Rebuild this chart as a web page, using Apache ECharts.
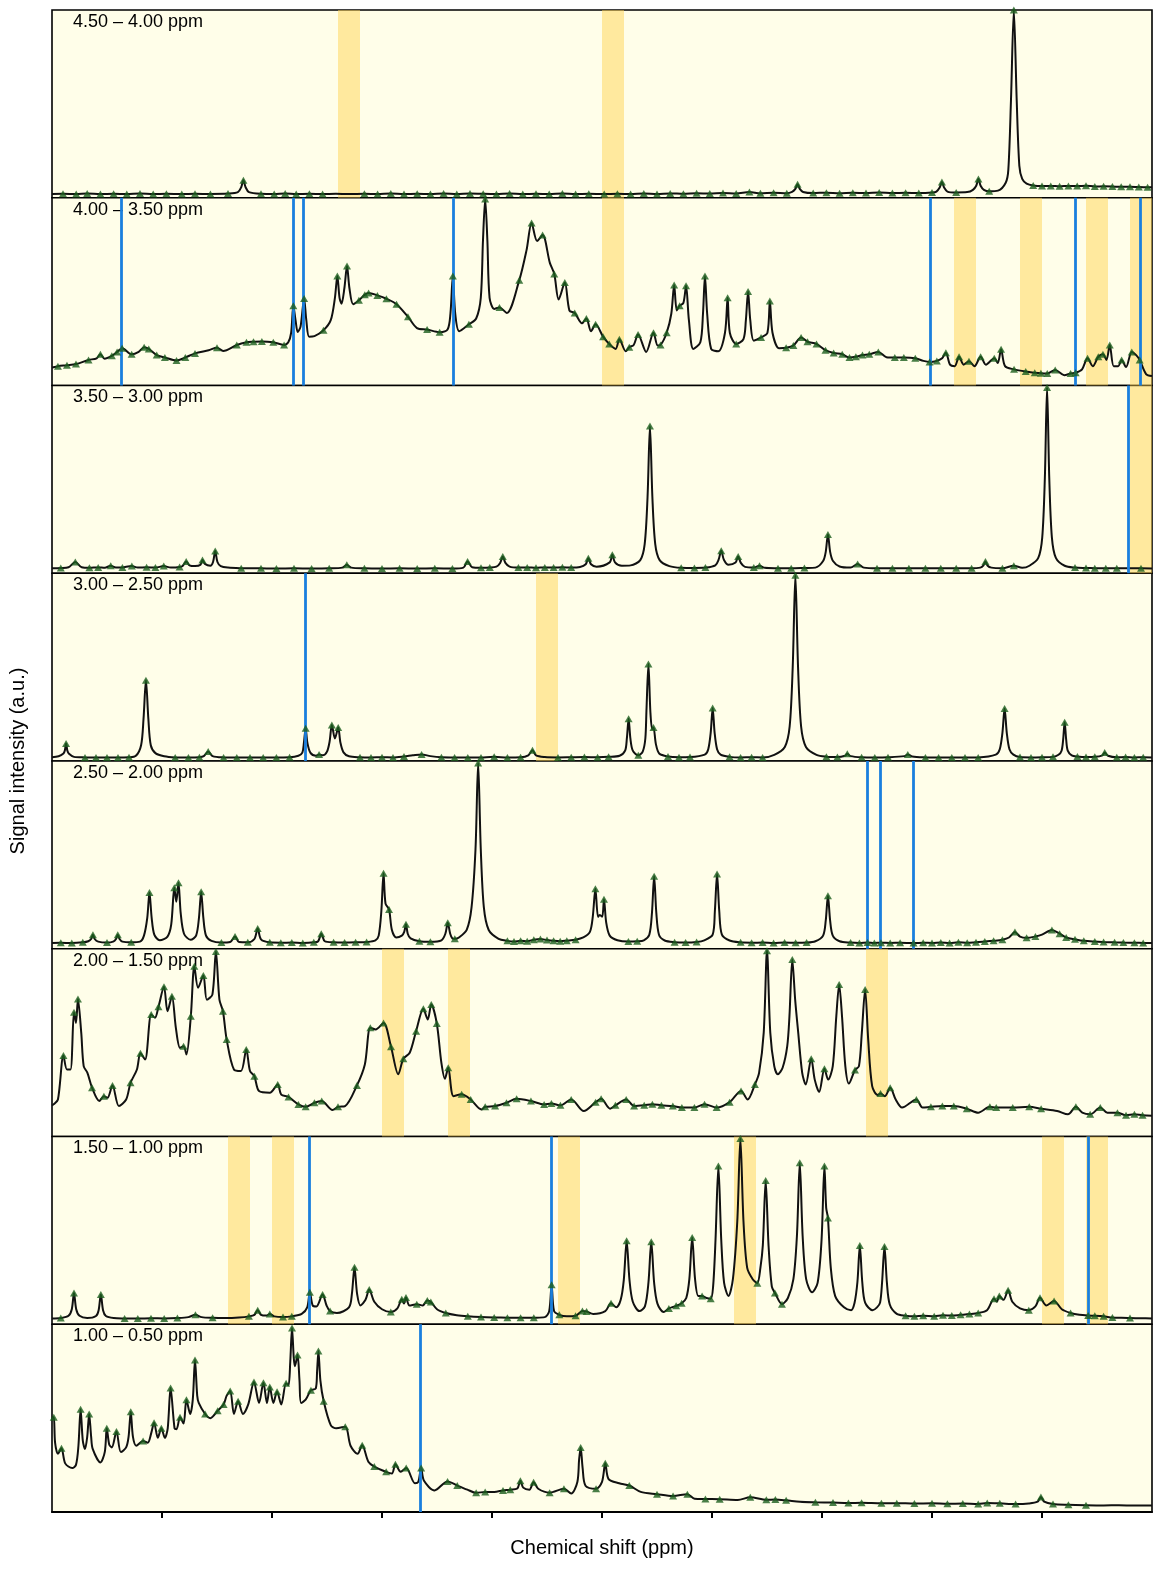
<!DOCTYPE html>
<html>
<head>
<meta charset="utf-8">
<script src="https://cdn.jsdelivr.net/npm/echarts@6/dist/echarts.min.js"></script>
<style>
  html, body { margin: 0; padding: 0; background: #fff; }
  #nmr { width: 1175px; height: 1586px; }
</style>
</head>
<body>
<div id="nmr"></div>
<script>
// upper ppm of each panel (each panel spans 0.5 ppm, drawn high -> low)
var panelHi = [4.5, 4.0, 3.5, 3.0, 2.5, 2.0, 1.5, 1.0];
var panelLabels = ['4.50 \u2013 4.00 ppm', '4.00 \u2013 3.50 ppm', '3.50 \u2013 3.00 ppm', '3.00 \u2013 2.50 ppm',
                   '2.50 \u2013 2.00 ppm', '2.00 \u2013 1.50 ppm', '1.50 \u2013 1.00 ppm', '1.00 \u2013 0.50 ppm'];
// tick marks under the bottom panel (no labels in the original)
var bottomTicks = [0.95, 0.9, 0.85, 0.8, 0.75, 0.7, 0.65, 0.6, 0.55];

// spectrum points: [ppm, intensity, picked-peak flag]
var spec1 = [[4.500,2.0],[4.495,2.1,1],[4.489,2.0,1],[4.484,2.2,1],[4.478,2.0,1],[4.472,2.1,1],[4.466,2.0,1],[4.460,2.2,1],[4.454,2.0,1],[4.448,2.1,1],[4.441,2.0,1],[4.435,2.1,1],[4.428,2.0,1],[4.420,2.2,1],
[4.4155,3.0],[4.414,5.6],[4.4130,9.3,1],[4.412,5.6],[4.4105,3.0],
[4.405,2.1,1],[4.399,2.0,1],[4.394,2.2,1],[4.389,2.0,1],[4.383,2.1,1],[4.377,2.0,1],[4.371,2.1],[4.365,2.0],[4.358,2.1,1],[4.352,2.0,1],[4.346,2.2,1],[4.340,2.0,1],[4.334,2.1,1],[4.328,2.0,1],[4.322,2.2,1],[4.316,2.0,1],[4.310,2.3,1],[4.304,2.1,1],[4.298,2.0,1],[4.292,2.2,1],[4.286,2.0,1],[4.280,2.1,1],[4.274,2.0,1],[4.268,2.2,1],[4.262,2.0,1],[4.256,2.1,1],[4.249,2.0,1],[4.243,2.1,1],[4.237,2.0,1],[4.231,2.2,1],[4.225,2.0,1],[4.219,2.3,1],[4.213,2.1,1],[4.207,2.4,1],[4.201,2.2,1],[4.195,2.5,1],[4.189,2.3,1],[4.183,3.0,1],[4.178,2.4,1],[4.172,2.6,1],[4.166,2.4,1],
[4.1636,3.1],[4.1621,4.7],[4.1611,7.2,1],[4.1601,4.7],[4.1586,3.1],
[4.154,2.5,1],[4.148,2.7,1],[4.142,2.4,1],[4.136,2.6,1],[4.130,2.5,1],[4.124,2.8,1],[4.118,2.5,1],[4.112,2.6,1],[4.106,2.5,1],[4.100,2.8,1],
[4.098,3.3],[4.0965,5.4],[4.0955,8.4,1],[4.0945,5.4],[4.093,3.3],
[4.089,2.8,1],[4.084,3.0],[4.0814,4.2],[4.0799,6.4],[4.0789,10.0,1],[4.0779,6.4],[4.0764,4.2],[4.074,3.4,1],[4.070,3.8],
[4.0665,8],[4.0653,15],[4.0641,52],[4.0628,100,1],[4.0615,52],[4.0603,17],[4.059,10],[4.057,7.5],[4.054,6.5,1],[4.050,6.2,1],[4.046,6.3,1],[4.042,6.1,1],[4.038,6.3,1],[4.034,6.2,1],[4.030,6.4,1],[4.026,6.0,1],[4.022,6.1,1],[4.018,6.0,1],[4.014,5.8,1],[4.010,5.9,1],[4.006,5.7,1],[4.002,5.6,1],[4.000,5.6]];

var spec2 = [[4.000,9.6],[3.9989,9.8],[3.9973,10.3,1],[3.9932,10.8,1],[3.9891,11.4,1],[3.9834,13.6,1],[3.9797,14.5],[3.9780,16.7,1],[3.9761,14.2],[3.9728,15.8,1],[3.9704,17.9,1],[3.9681,19.9,1],[3.9638,16.6,1],[3.9606,17.9],[3.9581,20.4,1],[3.9560,19.5,1],[3.9524,16.2,1],[3.9487,14.9,1],[3.9434,13.3,1],[3.9394,14.9,1],[3.9350,17.1,1],[3.9288,18.8],[3.9250,20.1,1],[3.9222,18.4],[3.9160,21.6,1],[3.9116,23.0,1],[3.9084,23.3,1],[3.9046,23.5,1],[3.8994,23.0,1],[3.8945,21.6,1],[3.8926,23.0],[3.8913,28.1],[3.8903,42.5,1],[3.8893,34.8],[3.8883,28.5],[3.8870,31.5],[3.8854,46.4,1],[3.8844,34.8],[3.8831,26.0],[3.8807,26.3],[3.8766,29.4,1],[3.8733,34.8],[3.8714,46.7],[3.8703,58.3,1],[3.8693,46.7],[3.8684,43.6],[3.8671,51.8],[3.8659,63.6,1],[3.8648,51.8],[3.8631,43.3],[3.8605,45.4,1],[3.8578,48.4,1],[3.8561,49.3,1],[3.8521,48.0,1],[3.8480,46.2,1],[3.8434,43.3,1],[3.8382,36.6,1],[3.8341,30.6],[3.8295,29.8,1],[3.8238,28.4,1],[3.8202,29.8],[3.8189,38.2],[3.8178,58.3,1],[3.8167,38.2],[3.8149,28.9],[3.8105,32.6,1],[3.8072,35.7],[3.8051,46.7],[3.8041,77.2],[3.8031,99.3,1],[3.8021,77.2],[3.8011,46.7],[3.7990,40.8],[3.7966,41.6,1],[3.7933,38.6],[3.7876,56.1,1],[3.7843,72.1],[3.7820,86.6,1],[3.7795,76.9],[3.7770,80.1,1],[3.7737,65.3],[3.7717,59.4,1],[3.7697,45.8],[3.7669,54.8,1],[3.7648,39.9],[3.7624,38.6,1],[3.7591,33.1],[3.7571,35.7,1],[3.7550,28.9],[3.7529,32.6,1],[3.7495,26.0,1],[3.7467,22.1,1],[3.7438,19.5],[3.7421,24.7,1],[3.7392,18.2],[3.7376,20.4,1],[3.7356,21.6],[3.7336,27.2,1],[3.7299,17.9],[3.7266,28.1,1],[3.7247,21.3],[3.7234,21.6,1],[3.7206,28.1,1],[3.7185,38.2],[3.7172,53.5,1],[3.7160,40.0],[3.7147,42.5,1],[3.7130,44.0],[3.7118,53.1,1],[3.7105,34.8],[3.7085,19.5],[3.7053,23.0],[3.7041,38.2],[3.7032,58.3,1],[3.7022,38.2],[3.7004,19.5],[3.6972,18.2],[3.6941,28.1],[3.6929,46.7,1],[3.6919,28.1],[3.6890,22.1,1],[3.6857,24.7],[3.6846,34.8],[3.6836,50.1,1],[3.6826,34.8],[3.6810,23.9],[3.6777,25.6,1],[3.6748,28.1],[3.6737,45.0,1],[3.6725,28.1],[3.6695,19.9],[3.6663,20.1,1],[3.6630,21.3,1],[3.6595,25.6,1],[3.6566,23.3,1],[3.6525,22.1,1],[3.6484,18.8,1],[3.6447,17.3,1],[3.6408,16.6,1],[3.6375,14.9,1],[3.6346,15.3,1],[3.6316,16.2,1],[3.6285,16.6,1],[3.6244,17.9,1],[3.6207,15.1],[3.6169,14.9,1],[3.6128,14.9,1],[3.6076,14.5,1],[3.6039,13.1],[3.6011,12.5,1],[3.5978,13.1,1],[3.5954,14.5],[3.5937,17.5,1],[3.5918,11.1],[3.5897,10.3],[3.5877,15.3,1],[3.5856,11.1],[3.5832,12.9,1],[3.5807,10.3],[3.5779,15.3,1],[3.5755,11.1],[3.5717,14.5,1],[3.5701,12.0],[3.5686,19.3,1],[3.5668,10.3],[3.5627,8.6,1],[3.5574,7.4,1],[3.5533,6.8,1],[3.5505,6.5,1],[3.5476,6.4,1],[3.5440,8.3,1],[3.5399,5.5],[3.5370,6.4,1],[3.5347,6.8,1],[3.5318,8.6],[3.5293,14.5,1],[3.5269,10.3],[3.5244,15.3,1],[3.5223,16.6,1],[3.5207,13.6],[3.5192,21.6,1],[3.5174,10.3],[3.5154,10.3],[3.5138,13.6,1],[3.5118,9.8],[3.5092,17.9,1],[3.5072,16.2],[3.5056,13.6,1],[3.5027,6.1],[3.5000,5.0]];

var spec3 = [[3.500,2.6],[3.496,2.8,1],[3.4925,3.2],[3.4894,6.0,1],[3.4865,3.2],[3.483,2.9,1],[3.479,3.1,1],[3.476,2.9],[3.4733,4.0,1],[3.471,3.0],[3.468,3.1,1],[3.4637,3.8,1],[3.461,3.0],[3.457,3.2,1],[3.453,3.0,1],[3.4492,3.8,1],[3.446,3.0],[3.442,3.3,1],[3.4405,4.0],[3.4390,6.3,1],[3.4375,4.2],[3.435,3.8],[3.4325,4.5],[3.4316,7.1,1],[3.4305,5.0],[3.428,4.0],[3.4268,6.0],[3.4258,11.8,1],[3.4248,6.0],[3.4233,3.8],[3.420,3.0],[3.414,2.7,1],[3.405,2.6,1],[3.398,2.5,1],[3.390,2.6,1],[3.382,2.5,1],[3.374,2.6,1],[3.368,3.0],[3.3660,4.5,1],[3.364,3.0],[3.358,2.6,1],[3.350,2.5,1],[3.342,2.6,1],[3.334,2.5,1],[3.326,2.6,1],[3.318,2.5,1],[3.313,3.0],[3.3111,6.3,1],[3.309,3.2],[3.305,2.9,1],[3.301,3.0,1],[3.298,3.5],[3.2963,5.5],[3.2951,8.9,1],[3.2939,5.5],[3.292,3.5],[3.288,3.0,1],[3.284,3.1,1],[3.280,2.9,1],[3.276,3.1,1],[3.272,3.0,1],[3.268,3.2,1],[3.264,3.0,1],[3.260,3.3],[3.2574,4.8],[3.2562,8.0,1],[3.255,4.8],[3.2525,3.5],[3.2465,5.8],[3.2453,9.8,1],[3.2441,5.8],[3.241,4.0],[3.237,4.2],[3.2326,7.0],[3.2306,15.5],[3.2293,40.5],[3.2282,78.4,1],[3.2271,40.5],[3.2258,15.5],[3.2238,7.0],[3.2194,3.8],[3.214,2.9,1],[3.208,2.8,1],[3.203,3.0,1],[3.1985,4.2],[3.1970,7.2],[3.1958,12.0,1],[3.1946,7.2],[3.1925,4.5],[3.1893,5.7],[3.1881,8.9,1],[3.1869,5.5],[3.185,3.4],[3.181,3.0,1],[3.1784,4.0,1],[3.176,2.9],[3.170,2.7,1],[3.164,2.6,1],[3.158,2.8,1],[3.153,3.0],[3.1495,6.5],[3.1483,11.4],[3.1473,20.7,1],[3.1463,11.4],[3.1450,6.5],[3.142,3.6],[3.137,3.0],[3.1338,4.9,1],[3.131,3.0],[3.125,2.6,1],[3.118,2.7,1],[3.1105,2.6,1],[3.103,2.7,1],[3.096,2.6,1],[3.089,2.7,1],[3.082,2.6,1],[3.078,3.0],[3.0767,4.0],[3.0757,6.3,1],[3.0747,4.0],[3.073,3.0],[3.068,2.7,1],[3.0628,4.0,1],[3.059,2.9],[3.0557,4.0],[3.0517,8.2],[3.0499,19.0],[3.0487,50.8],[3.0477,99,1],[3.0467,50.8],[3.0455,19.0],[3.0437,8.2],[3.0397,4.0],[3.035,3.0,1],[3.030,2.8,1],[3.026,2.7,1],[3.021,2.6,1],[3.016,2.7,1],[3.010,2.6],[3.005,2.6,1],[3.000,2.5]];

var spec4 = [[3.000,2.0],[2.997,2.5],[2.9948,4.0],[2.9942,5.4],[2.9936,9.3,1],[2.993,5.4],[2.9924,4.0],[2.990,2.2],[2.985,1.9,1],[2.980,1.8,1],[2.975,1.9,1],[2.970,1.8,1],[2.965,2.0,1],[2.962,2.6],[2.9595,8.4],[2.9584,22.4],[2.9573,43.0,1],[2.9562,22.4],[2.9551,8.4],[2.953,4.2],[2.949,2.5],[2.944,1.9,1],[2.938,1.8,1],[2.933,2.0,1],[2.931,2.6],[2.9290,5.0,1],[2.927,2.6],[2.922,1.9,1],[2.916,1.8,1],[2.910,1.9,1],[2.904,1.8,1],[2.898,1.9,1],[2.892,2.0,1],[2.888,2.8],[2.8862,4.5],[2.8855,9.6],[2.8847,17.4,1],[2.8839,9.6],[2.8825,4.3],[2.880,2.8],[2.8786,3.4,1],[2.877,3.0],[2.875,5.0],[2.8738,10.5],[2.8728,19.2,1],[2.8714,12.0],[2.8699,17.8,1],[2.8689,9.8],[2.8675,4.6],[2.865,2.5],[2.860,2.0,1],[2.855,1.9,1],[2.850,2.0,1],[2.845,1.9,1],[2.840,2.4,1],[2.836,3.0],[2.832,3.5,1],[2.828,2.6],[2.823,2.0,1],[2.817,1.9,1],[2.811,1.8,1],[2.805,1.9,1],[2.799,2.2,1],[2.793,1.9,1],[2.787,2.0,1],[2.7835,3.0],[2.7816,5.7,1],[2.780,3.0],[2.776,2.1],[2.770,1.9,1],[2.764,2.0,1],[2.758,2.1,1],[2.752,2.0,1],[2.747,2.2,1],[2.742,2.8],[2.7395,5.5],[2.7387,12.0],[2.7379,22.5,1],[2.7371,12.0],[2.736,5.5],[2.7335,3.0,1],[2.7315,5.0],[2.7303,12.0],[2.7298,26.7],[2.7289,51.6,1],[2.7280,26.0],[2.7272,17.0],[2.7266,17.8,1],[2.7255,9.0],[2.724,4.0],[2.720,2.4,1],[2.715,2.0,1],[2.710,2.1,1],[2.7033,3.4],[2.7017,6.3],[2.7006,15.0],[2.6997,28.2,1],[2.6988,15.0],[2.6977,6.3],[2.6961,3.4],[2.692,2.2,1],[2.687,1.9,1],[2.682,2.0,1],[2.677,1.9,1],[2.6717,3.3],[2.6669,7.5],[2.6647,18.4],[2.6633,50.4],[2.6621,99,1],[2.6609,50.4],[2.6595,18.4],[2.6573,7.5],[2.6525,3.3],[2.648,2.3,1],[2.643,2.1,1],[2.6395,2.8],[2.6385,3.8,1],[2.637,2.6],[2.632,2.0,1],[2.626,1.9,1],[2.620,2.0,1],[2.6125,2.6],[2.6110,3.5,1],[2.609,2.4],[2.603,1.9,1],[2.597,1.8,1],[2.591,1.9,1],[2.585,1.8,1],[2.579,1.9,1],[2.5710,3.4],[2.5692,6.3],[2.5680,14.9],[2.5670,27.9,1],[2.5660,14.9],[2.5648,6.3],[2.5630,3.4],[2.560,2.1,1],[2.555,1.9,1],[2.550,2.0,1],[2.545,2.2,1],[2.5425,3.3],[2.5411,5.5],[2.5404,11.2],[2.5397,20.6,1],[2.5390,11.2],[2.5383,5.5],[2.5365,3.0],[2.5339,2.4,1],[2.530,2.1,1],[2.526,2.2,1],[2.5225,3.0],[2.5215,4.5,1],[2.520,2.8],[2.516,2.0,1],[2.512,2.1,1],[2.508,1.9,1],[2.504,2.0,1],[2.500,1.9]];

var spec5 = [[2.500,3.0],[2.496,3.2,1],[2.491,3.0,1],[2.486,3.4,1],[2.4835,4.0],[2.4822,5.2],[2.4814,7.5,1],[2.4806,5.2],[2.479,3.8],[2.475,3.3,1],[2.4722,3.8],[2.4709,5.2],[2.4701,7.5,1],[2.4693,5.2],[2.468,3.8],[2.464,3.4,1],[2.460,3.8],[2.4582,7.0],[2.4567,16.5],[2.4557,29.9,1],[2.4547,16.5],[2.4535,7.5],[2.451,4.5],[2.4475,6.5],[2.4458,13.0],[2.4444,32.5,1],[2.4435,25.0],[2.4425,35.1,1],[2.4415,19.0],[2.4400,8.0],[2.437,4.8],[2.4345,7.0],[2.4332,16.5],[2.4322,30.4,1],[2.4312,16.5],[2.430,7.0],[2.4275,4.2],[2.423,3.3,1],[2.419,3.6],[2.4168,6.5,1],[2.415,3.6],[2.411,3.5,1],[2.408,5.2],[2.4065,10.8,1],[2.405,5.0],[2.401,3.4,1],[2.396,3.2,1],[2.391,3.3,1],[2.386,3.1,1],[2.381,3.4,1],[2.379,4.0],[2.3776,8.0,1],[2.376,4.0],[2.372,3.4,1],[2.367,3.3,1],[2.362,3.4,1],[2.357,3.6,1],[2.353,4.5],[2.3515,7.0],[2.3503,20.0],[2.3493,40.2,1],[2.3484,24.0],[2.3468,20.9,1],[2.3455,10.0],[2.3435,6.0],[2.341,7.0],[2.3399,9.0],[2.3391,13.0,1],[2.3383,8.0],[2.337,5.5],[2.333,4.0,1],[2.328,3.7,1],[2.323,4.5],[2.3212,8.0],[2.3201,13.8,1],[2.3190,8.0],[2.318,5.5],[2.3169,5.3,1],[2.315,6.0],[2.3115,10],[2.3093,22],[2.3075,53],[2.3063,99,1],[2.3051,53],[2.3037,22],[2.3015,10],[2.297,5.3],[2.293,4.2,1],[2.290,3.8,1],[2.287,4.3,1],[2.284,4.0,1],[2.281,4.8,1],[2.278,5.2,1],[2.275,4.6,1],[2.272,4.2,1],[2.269,4.0,1],[2.266,4.3,1],[2.262,4.8,1],[2.2585,6.0],[2.2555,9.0],[2.2542,17.0],[2.2530,31.9,1],[2.2518,17.0],[2.2510,18.0],[2.2499,17.0],[2.2491,26.4,1],[2.2481,14.0],[2.2465,7.0],[2.243,4.5],[2.238,3.8,1],[2.234,4.0,1],[2.231,4.5],[2.2285,7.5],[2.2273,19.0],[2.2263,38.6,1],[2.2253,19.0],[2.2241,7.5],[2.2215,4.4],[2.217,3.5,1],[2.212,3.3,1],[2.207,3.6,1],[2.2035,4.5],[2.1997,7.5],[2.1987,20.0],[2.1977,39.8,1],[2.1967,20.0],[2.1955,7.5],[2.192,4.4],[2.187,3.4,1],[2.182,3.2,1],[2.177,3.3,1],[2.172,3.1,1],[2.167,3.3,1],[2.162,3.2,1],[2.157,3.3,1],[2.153,4.0],[2.1495,7.0],[2.1483,15.0],[2.1473,28.2,1],[2.1463,15.0],[2.1451,7.0],[2.142,4.0],[2.137,3.3,1],[2.133,3.1,1],[2.1293,3.3,1],[2.1262,3.1,1],[2.1232,3.2,1],[2.119,3.1,1],[2.1145,3.2,1],[2.1084,3.0,1],[2.104,3.2,1],[2.100,3.1,1],[2.096,3.3,1],[2.092,3.1,1],[2.088,3.4,1],[2.084,3.2,1],[2.080,3.5,1],[2.076,3.8,1],[2.072,4.2,1],[2.068,4.8,1],[2.065,6.0],[2.0623,8.9,1],[2.060,6.5],[2.057,5.8,1],[2.053,6.5,1],[2.050,7.5],[2.0455,10.0,1],[2.042,8.0,1],[2.039,6.0,1],[2.035,5.0,1],[2.031,4.2,1],[2.026,3.8,1],[2.022,3.6,1],[2.017,3.4,1],[2.013,3.3,1],[2.008,3.2,1],[2.004,3.1,1],[2.000,3.0]];

var spec6 = [[2.000,16.5],[1.9993,17.1],[1.9973,19.7],[1.9948,43.1,1],[1.9932,35.7],[1.9916,35.7],[1.9900,66.2,1],[1.9891,60.5],[1.9882,73.3,1],[1.9867,55.2],[1.9856,37.5],[1.9839,33.9],[1.9818,26.0,1],[1.9785,18.9],[1.9764,21.5,1],[1.9748,20.6],[1.9725,27.2,1],[1.9696,16.2],[1.9663,19.7],[1.9643,28.6,1],[1.9614,35.7],[1.9598,44.3,1],[1.9577,41.0],[1.9549,65.0,1],[1.9532,63.2],[1.9516,69.1,1],[1.9491,79.7,1],[1.9475,66.7],[1.9455,74.7,1],[1.9437,57.9],[1.9418,47.2],[1.9402,48.1,1],[1.9389,43.7],[1.9369,64.0,1],[1.9353,90.7,1],[1.9336,79.2],[1.9312,85.7,1],[1.9296,72.9],[1.9271,75.6],[1.9255,98.6,1],[1.9239,72.9],[1.9223,66.7,1],[1.9206,51.6,1],[1.9173,35.7],[1.9141,34.9],[1.9117,46.3,1],[1.9100,34.9],[1.9080,32.1,1],[1.9059,24.2],[1.9010,23.3],[1.8974,27.7,1],[1.8958,22.3],[1.8925,21.1,1],[1.8880,17.1,1],[1.8847,15.8,1],[1.8807,18.0,1],[1.8774,18.9,1],[1.8725,14.1],[1.8700,15.8,1],[1.8668,16.2],[1.8614,27.2,1],[1.8578,38.4],[1.8553,57.9,1],[1.8529,57.0],[1.8493,60.5,1],[1.8459,47.8,1],[1.8426,33.1],[1.8403,41.4,1],[1.8374,44.6],[1.8345,56.1,1],[1.8312,68.0,1],[1.8292,62.3],[1.8276,70.3,1],[1.8251,60.2,1],[1.8230,39.2],[1.8214,30.7],[1.8199,36.6,1],[1.8175,21.5],[1.8138,22.5,1],[1.8097,19.7,1],[1.8048,14.4],[1.8031,15.8,1],[1.7986,16.2,1],[1.7934,18.0,1],[1.7888,20.1,1],[1.7823,18.9,1],[1.7763,17.1,1],[1.7730,17.6,1],[1.7689,16.6,1],[1.7640,19.7,1],[1.7583,13.6],[1.7529,18.3,1],[1.7504,20.1,1],[1.7463,14.8],[1.7439,16.6,1],[1.7390,19.7,1],[1.7354,16.2,1],[1.7308,16.6,1],[1.7271,17.2,1],[1.7230,16.6,1],[1.7178,16.2,1],[1.7137,15.4,1],[1.7080,15.4,1],[1.7034,17.2,1],[1.6979,15.4,1],[1.6920,18.3,1],[1.6868,24.2,1],[1.6838,19.7],[1.6805,27.7,1],[1.6786,33.9],[1.6765,55.2],[1.6750,99.0,1],[1.6735,55.2],[1.6717,37.5],[1.6701,33.1],[1.6679,36.6],[1.6658,48.1],[1.6648,64.0],[1.6635,94.3,1],[1.6622,72.9],[1.6608,55.2],[1.6590,33.9],[1.6574,27.7],[1.6549,41.4,1],[1.6533,30.3],[1.6513,23.7],[1.6489,36.1,1],[1.6472,30.3],[1.6451,37.5],[1.6435,64.0],[1.6422,80.9,1],[1.6409,64.0],[1.6394,37.5],[1.6378,28.2],[1.6350,35.4,1],[1.6332,37.5],[1.6319,55.2],[1.6304,78.3,1],[1.6290,51.6],[1.6272,26.8],[1.6247,22.1],[1.6234,22.9,1],[1.6214,21.5],[1.6190,26.0,1],[1.6165,19.7],[1.6136,15.4],[1.6071,19.7,1],[1.6043,15.4],[1.6005,15.8,1],[1.5953,16.2,1],[1.5901,16.2,1],[1.5842,14.8,1],[1.5790,12.7],[1.5737,15.8,1],[1.5708,15.4,1],[1.5633,15.4,1],[1.5558,15.8,1],[1.5504,14.8,1],[1.5431,13.6],[1.5382,11.8],[1.5346,15.8,1],[1.5317,12.7],[1.5281,11.8,1],[1.5235,15.4,1],[1.5203,12.7],[1.5157,12.7,1],[1.5118,11.3,1],[1.5080,11.8,1],[1.5043,11.3,1],[1.5000,11.1]];

var spec7 = [[1.500,3.0],[1.4960,3.3,1],[1.4925,4.5],[1.4910,8.0],[1.4900,16.7,1],[1.4890,8.0],[1.4875,4.5],[1.484,3.3],[1.4800,4.4],[1.4788,7.5],[1.4778,15.9,1],[1.4768,7.5],[1.4755,4.4],[1.472,3.3],[1.467,3.1,1],[1.461,3.0,1],[1.455,3.2,1],[1.449,3.1,1],[1.443,3.3,1],[1.438,3.8],[1.4348,5.0,1],[1.432,3.8],[1.427,3.4,1],[1.421,3.3],[1.415,3.6],[1.4105,4.2,1],[1.408,5.0],[1.4065,7.5,1],[1.405,5.0],[1.4025,4.6],[1.4010,5.5,1],[1.399,4.2],[1.395,3.8,1],[1.391,4.2,1],[1.3865,5.5],[1.3840,9.0],[1.3828,17.1,1],[1.3815,10.0],[1.3798,9.5],[1.3770,15.9,1],[1.3752,10.0],[1.3736,7.0,1],[1.3705,6.0],[1.3650,9.0],[1.3637,16.0],[1.3625,30.3,1],[1.3613,16.0],[1.3598,10.0],[1.3575,13.0],[1.3558,18.5,1],[1.3535,12.0],[1.350,8.0],[1.346,6.5,1],[1.343,8.5],[1.3410,13.3,1],[1.3400,11.0],[1.3391,14.2,1],[1.3375,10.0],[1.3342,10.7,1],[1.3315,10.0],[1.3294,12.7,1],[1.3278,11.9,1],[1.325,8.0],[1.321,6.0,1],[1.316,4.8],[1.311,4.2,1],[1.305,3.8,1],[1.299,3.6,1],[1.293,3.5,1],[1.287,3.4,1],[1.281,3.5,1],[1.276,3.8],[1.2740,7.0],[1.2729,21.0,1],[1.2718,7.0],[1.2694,5.0,1],[1.266,4.2],[1.262,4.5,1],[1.2589,7.0,1],[1.2570,6.8,1],[1.254,5.5],[1.2485,7.0],[1.2459,11.2,1],[1.2435,9.0],[1.2415,13.0],[1.2401,23.5],[1.2388,44.5,1],[1.2375,23.5],[1.2360,12.0],[1.233,7.0],[1.2305,9.5],[1.2289,22.0],[1.2276,43.9,1],[1.2263,22.0],[1.2248,11.0],[1.2220,6.5],[1.2196,8.4,1],[1.2163,9.8,1],[1.2138,11.2,1],[1.2117,14.0],[1.2103,24.0],[1.2090,46.2,1],[1.2077,24.0],[1.2062,15.0],[1.2045,15.0,1],[1.2025,14.0],[1.2006,13.6,1],[1.1995,20],[1.1984,45],[1.1971,84.3,1],[1.1958,45],[1.1945,22],[1.1925,15.0],[1.1905,24],[1.1885,55],[1.1871,99,1],[1.1857,55],[1.1840,30],[1.1815,24],[1.1794,21.9,1],[1.1780,30],[1.1769,42],[1.1756,76.5,1],[1.1743,42],[1.1728,20],[1.1714,16.7,1],[1.1682,10.7,1],[1.1655,14],[1.1630,24],[1.1614,47],[1.1601,86.0,1],[1.1588,47],[1.1572,24],[1.1545,17],[1.1520,22],[1.1502,45],[1.1489,84.3,1],[1.1481,62],[1.1473,56.6,1],[1.1460,30],[1.1440,15],[1.1400,9],[1.1368,7.5],[1.1352,11.5],[1.1339,22.5],[1.1328,41.9,1],[1.1317,22.5],[1.1304,11.5],[1.127,7.5],[1.1250,9.0],[1.1236,11.5],[1.1227,22.2],[1.1216,41.4,1],[1.1205,22.2],[1.1192,10.5],[1.116,5.5],[1.112,4.5,1],[1.108,4.2,1],[1.104,4.5,1],[1.099,4.3,1],[1.095,4.8,1],[1.091,4.6,1],[1.087,5.0,1],[1.083,5.4,1],[1.079,6.0,1],[1.075,7.5],[1.0718,13.6,1],[1.0705,12.0],[1.0694,15.0,1],[1.0675,13.0],[1.0654,18.1,1],[1.0635,12.0],[1.060,8.5],[1.056,7.5,1],[1.053,9.5],[1.0509,14.1,1],[1.048,10.0],[1.0445,12.4,1],[1.041,8.0],[1.037,6.0,1],[1.033,5.0],[1.0290,4.6,1],[1.026,4.5,1],[1.022,4.2,1],[1.018,3.6,1],[1.014,3.4],[1.010,3.3,1],[1.005,3.2],[1.000,3.1]];

var spec8 = [[1.000,50.5],[0.9992,50.5,1],[0.9986,36.9],[0.9973,31.0],[0.9957,33.9,1],[0.9940,25.9],[0.9908,23.4],[0.9891,25.1],[0.9880,35.0],[0.9870,54.7,1],[0.9860,38.0],[0.9850,33.6],[0.9840,40.0],[0.9831,52.2,1],[0.9822,40.0],[0.9815,33.6],[0.9780,26.4],[0.9760,32.0],[0.9751,44.6,1],[0.9740,36.0],[0.9728,34.4],[0.9707,42.9,1],[0.9687,31.9],[0.9663,34.4],[0.9652,40.0],[0.9642,53.4,1],[0.9632,40.0],[0.9617,35.3],[0.9586,37.8,1],[0.9565,36.9],[0.9549,42.0],[0.9536,47.6,1],[0.9519,39.5],[0.9503,44.6,1],[0.9487,39.5],[0.9474,44.6],[0.9461,66.1,1],[0.9443,44.6],[0.9434,44.1],[0.9418,50.5,1],[0.9402,47.1],[0.9389,59.8,1],[0.9372,52.2],[0.9360,60.0],[0.9350,81.0,1],[0.9340,62.0],[0.9333,58.1],[0.9304,52.2,1],[0.9280,50.0],[0.9247,53.9,1],[0.9220,57.3,1],[0.9206,62.0],[0.9190,64.4,1],[0.9173,52.2],[0.9154,59.0,1],[0.9132,52.2],[0.9108,57.3],[0.9082,69.2,1],[0.9059,58.1],[0.9039,68.8,1],[0.9023,58.1],[0.9010,66.6,1],[0.8994,58.1],[0.8977,64.1,1],[0.8958,57.3],[0.8936,68.6,1],[0.8925,67.5],[0.8917,80.0],[0.8909,98.0,1],[0.8901,82.0],[0.8896,77.6],[0.8884,83.6,1],[0.8875,70.0],[0.8868,58.1],[0.8847,59.8],[0.8823,64.9,1],[0.8801,65.8],[0.8795,75.0],[0.8789,85.8,1],[0.8780,70.0],[0.8765,59.0,1],[0.8733,46.3],[0.8708,44.6],[0.8667,45.4,1],[0.8643,35.3],[0.8611,31.0],[0.8590,35.6,1],[0.8562,26.8],[0.8535,24.2,1],[0.8481,21.4,1],[0.8455,20.5],[0.8439,25.4,1],[0.8415,21.4],[0.8390,23.4,1],[0.8350,15.3],[0.8335,16.0],[0.8322,23.4,1],[0.8309,16.6],[0.8261,11.5],[0.8202,16.3,1],[0.8158,14.1,1],[0.8112,11.9],[0.8072,10.2,1],[0.8031,10.7,1],[0.7990,10.7],[0.7950,11.5,1],[0.7917,11.9,1],[0.7885,12.5],[0.7871,16.6,1],[0.7858,13.0],[0.7830,11.9],[0.7811,15.8,1],[0.7790,12.4],[0.7738,10.3,1],[0.7673,12.4,1],[0.7640,9.8],[0.7612,16.0],[0.7604,28.0],[0.7597,34.4,1],[0.7588,23.4],[0.7575,14.0],[0.7527,12.4,1],[0.7500,16.0],[0.7485,25.9,1],[0.7470,17.5],[0.7422,15.3],[0.7376,14.1,1],[0.7324,10.7],[0.7250,9.5,1],[0.7177,8.5,1],[0.7112,9.5,1],[0.7079,7.1],[0.7030,6.9,1],[0.6965,6.8,1],[0.6883,6.4],[0.6826,7.8,1],[0.6753,6.5,1],[0.6712,6.6,1],[0.6663,6.2,1],[0.6600,5.5],[0.6530,5.2,1],[0.6450,5.0,1],[0.6380,4.8,1],[0.6320,4.9,1],[0.6230,4.6,1],[0.6160,4.7,1],[0.6080,4.5,1],[0.6000,4.6,1],[0.5930,4.4,1],[0.5860,4.5,1],[0.5790,4.3,1],[0.5749,4.8,1],[0.5692,4.6,1],[0.5620,4.2,1],[0.5560,4.5],[0.5520,5.5],[0.5505,8.0,1],[0.5490,5.5],[0.5450,4.2,1],[0.5380,3.8,1],[0.5300,3.6,1],[0.5220,3.5],[0.5150,3.6],[0.5080,3.4],[0.5000,3.5]];

// shaded (excluded) regions per panel [from, to] ppm
var bands1 = [[4.37,4.36],[4.25,4.24]];
var bands2 = [[3.75,3.74],[3.59,3.58],[3.56,3.55],[3.53,3.52],[3.51,3.50]];
var bands3 = [[3.01,3.00]];
var bands4 = [[2.78,2.77]];
var bands5 = [];
var bands6 = [[1.85,1.84],[1.82,1.81],[1.63,1.62]];
var bands7 = [[1.42,1.41],[1.40,1.39],[1.27,1.26],[1.19,1.18],[1.05,1.04],[1.03,1.02]];
var bands8 = [];

// blue reference lines per panel (ppm)
var lines1 = [];
var lines2 = [3.9683, 3.8905, 3.8857, 3.8177, 3.6010, 3.5351, 3.5055];
var lines3 = [3.0108];
var lines4 = [2.8848];
var lines5 = [2.1295, 2.1234, 2.1086];
var lines6 = [];
var lines7 = [1.3832, 1.2730, 1.0290];
var lines8 = [0.8325];

var spectra = [spec1, spec2, spec3, spec4, spec5, spec6, spec7, spec8];
var bands = [bands1, bands2, bands3, bands4, bands5, bands6, bands7, bands8];
var blueLines = [lines1, lines2, lines3, lines4, lines5, lines6, lines7, lines8];

var chart = echarts.init(document.getElementById('nmr'));

var TOP = 10, PH = 187.75, LEFT = 52, PW = 1100;
var FONT = '"Liberation Sans", Arial, Helvetica, sans-serif';
var grids = [], xAxes = [], yAxes = [], series = [], graphics = [];

panelHi.forEach(function (hi, i) {
    var lo = Math.round((hi - 0.5) * 100) / 100;
    var last = i === panelHi.length - 1;
    grids.push({
        left: LEFT, top: TOP + i * PH, width: PW, height: PH,
        show: true, backgroundColor: '#fffee9', borderColor: '#000', borderWidth: 1.6
    });
    xAxes.push({
        gridIndex: i, type: 'value', inverse: true, min: lo, max: hi, interval: 0.05,
        axisLine: { show: last, onZero: false, lineStyle: { color: '#000', width: 2 } },
        axisTick: { show: last, length: 6, customValues: bottomTicks, lineStyle: { color: '#000', width: 2 } },
        axisLabel: { show: false },
        splitLine: { show: false }
    });
    yAxes.push({ gridIndex: i, type: 'value', min: 0, max: 100, show: false });

    series.push({
        type: 'line', xAxisIndex: i, yAxisIndex: i, z: 2,
        data: spectra[i].map(function (p) { return [p[0], p[1]]; }),
        symbol: 'none', showSymbol: false, silent: true,
        smooth: 0.3,
        lineStyle: { color: '#111', width: 2 }
    });
    series.push({
        type: 'line', xAxisIndex: i, yAxisIndex: i, z: 3, data: [],
        markArea: {
            silent: true, precision: 4,
            itemStyle: { color: 'rgba(255, 212, 84, 0.5)' },
            data: bands[i].map(function (b) { return [{ xAxis: b[0] }, { xAxis: b[1] }]; })
        }
    });
    series.push({
        type: 'line', xAxisIndex: i, yAxisIndex: i, z: 4, data: [],
        markLine: {
            silent: true, symbol: 'none', animation: false, precision: 4,
            label: { show: false },
            lineStyle: { color: '#1a7fde', width: 2.8, type: 'solid' },
            data: blueLines[i].map(function (x) { return { xAxis: x }; })
        }
    });
    series.push({
        type: 'scatter', xAxisIndex: i, yAxisIndex: i, z: 5, silent: true,
        symbol: 'triangle', symbolSize: [8, 7],
        itemStyle: { color: '#1b5e1d' },
        data: spectra[i].filter(function (p) { return p[2]; }).map(function (p) { return [p[0], p[1]]; })
    });

    graphics.push({
        type: 'text', left: 73, top: TOP + i * PH + 3,
        style: { text: panelLabels[i], font: '18px ' + FONT, fill: '#000' }
    });
});

graphics.push({
    type: 'text', x: 602, y: 1548,
    style: { text: 'Chemical shift (ppm)', font: '20px ' + FONT, fill: '#000', align: 'center', verticalAlign: 'middle' }
});
graphics.push({
    type: 'text', x: 18, y: 761, rotation: Math.PI / 2,
    style: { text: 'Signal intensity (a.u.)', font: '20px ' + FONT, fill: '#000', align: 'center', verticalAlign: 'middle' }
});

chart.setOption({
    animation: false,
    backgroundColor: '#fff',
    grid: grids,
    xAxis: xAxes,
    yAxis: yAxes,
    series: series,
    graphic: graphics
});
</script>
</body>
</html>
